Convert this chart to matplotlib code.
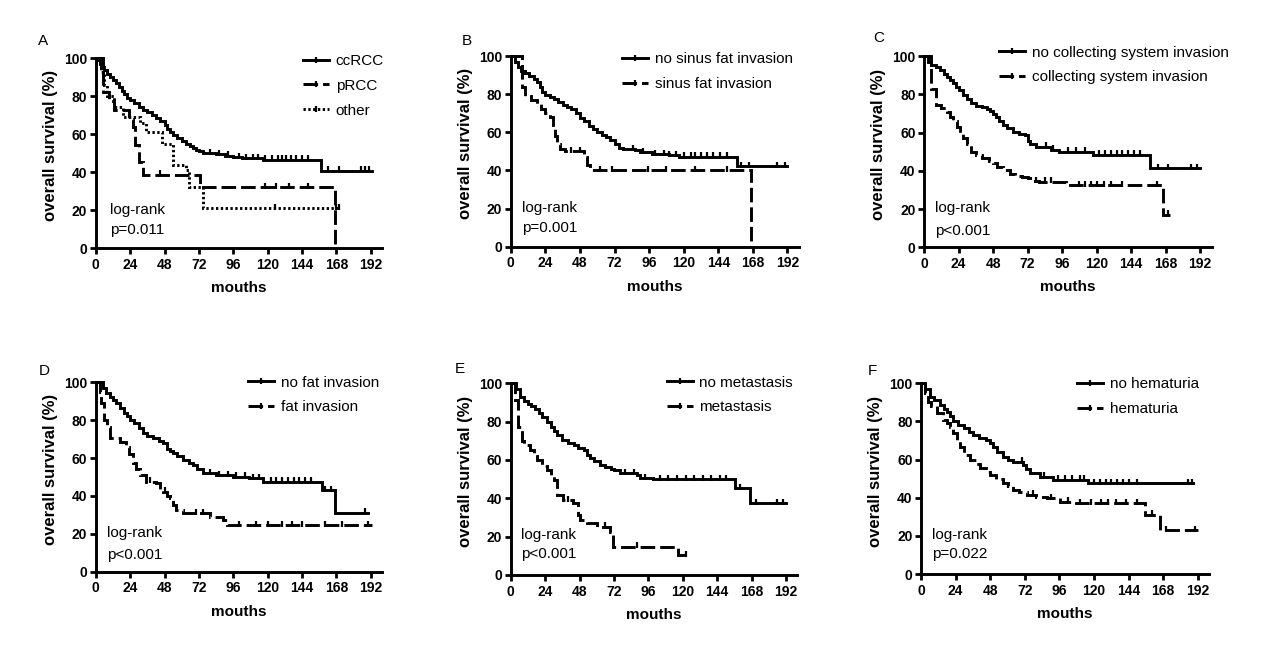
import numpy as np
import matplotlib
matplotlib.use("Agg")
import matplotlib.pyplot as plt
from matplotlib.lines import Line2D

plt.rcParams['font.family'] = ['Liberation Sans', 'DejaVu Sans']

# ---------------- DATA (months, survival %) ----------------
xticks = [0, 24, 48, 72, 96, 120, 144, 168, 192]
yticks = [0, 20, 40, 60, 80, 100]

# Panel A
A_labels = ["ccRCC", "pRCC", "other"]
A_cc_t = [0, 2, 3, 4, 6, 8, 10, 12, 14, 16, 18, 20, 22, 24, 27, 30, 33, 36, 39, 42, 45, 48, 50, 52, 54, 57, 60, 63, 66, 68, 70, 72, 75, 84, 90, 96, 102, 117, 157, 192.5]
A_cc_s = [100, 99, 97, 95.5, 94, 92, 90, 88.5, 87, 85, 83, 81, 79, 78, 76.5, 74.5, 73, 71.5, 70, 68.5, 67, 65, 63, 61, 59.5, 58, 56.5, 55, 54, 53, 52, 51, 50, 49.5, 48.6, 48, 47.5, 46.5, 40.9, 40.9]
A_cc_c = [80, 86, 92, 100, 105, 110, 113, 118, 123, 127, 130, 133, 136, 140, 144, 148, 162, 170, 185, 188, 191]
A_pr_t = [0, 5, 9, 13, 23, 26, 27.5, 30, 33, 73, 167, 167]
A_pr_s = [100, 82.5, 77.5, 72.7, 68, 63.6, 54.5, 45.5, 38.6, 32.2, 0, 0]
A_pr_c = [45, 118, 126, 135, 148]
A_ot_t = [0, 4, 6, 8, 13, 19, 31, 35, 46, 54, 63, 65, 75, 170.6]
A_ot_s = [100, 93, 86, 80, 74.5, 69, 66, 61.4, 55, 43.9, 41, 32.5, 21, 21]
A_ot_c = [125, 168, 170]

# Panel B
B_labels = ["no sinus fat invasion", "sinus fat invasion"]
B_no_t = [0, 3, 5, 7, 10, 13, 16, 18, 20, 22, 24, 27, 30, 33, 36, 39, 42, 45, 48, 51, 54, 57, 60, 63, 66, 69, 72, 75, 78, 86, 90, 98, 110, 117, 157, 192]
B_no_s = [100, 97, 94, 92, 91, 89.5, 88, 86.5, 84, 81, 79.5, 78.5, 77.5, 76, 74.5, 73.5, 72, 70, 67.5, 66, 63.5, 61.5, 60, 58.5, 57.5, 56, 54, 52, 51, 50.5, 49.5, 48.5, 48, 47.2, 42.3, 42.3]
B_no_c = [85, 92, 100, 106, 110, 115, 120, 125, 128, 132, 136, 140, 145, 150, 160, 165, 185, 190]
B_yes_t = [0, 8, 10, 14, 18, 21, 24, 27, 29, 30.5, 32, 34, 38, 51, 53, 55, 167, 167]
B_yes_s = [100, 84, 79, 77, 75, 72, 70, 68, 64, 58, 54, 51, 50, 47.2, 43, 40, 0, 0]
B_yes_c = [42, 48, 62, 70, 95, 108, 128, 150]

# Panel C
C_labels = ["no collecting system invasion", "collecting system invasion"]
C_no_t = [0, 3, 5, 8, 11, 14, 16, 18, 20, 22, 24, 27, 30, 33, 36, 40, 44, 46, 48, 50, 52, 55, 58, 62, 66, 70, 72, 74, 78, 88, 94, 117.8, 157, 192]
C_no_s = [100, 97, 95.5, 94, 92.7, 90.5, 89, 87.5, 86, 84, 82, 79.6, 77.5, 75.5, 74, 73.5, 72.5, 71.5, 69.5, 68, 66, 64, 62.5, 60.5, 59, 58.5, 55.5, 54, 52.6, 51, 50, 48.3, 41.3, 41.3]
C_no_c = [85, 90, 100, 106, 112, 122, 126, 130, 134, 138, 142, 146, 150, 163, 170, 186, 190]
C_yes_t = [0, 5, 8, 12, 16, 18, 20, 23, 25, 27, 30, 33, 36, 40, 45, 48, 51, 55, 60, 63, 68, 72, 76, 80, 99, 100, 166.5, 171]
C_yes_s = [100, 83, 74.4, 72.6, 70.5, 68.3, 66, 63, 60, 57, 54, 50, 48.5, 46.5, 45, 43.9, 42, 40.4, 38.5, 37.5, 36.5, 36, 34.5, 34.3, 33.8, 32.4, 16.9, 16.9]
C_yes_c = [78, 84, 88, 108, 112, 116, 120, 125, 130, 138, 162, 170]

# Panel D
D_labels = ["no fat invasion", "fat invasion"]
D_no_t = [0, 5, 7, 10, 12, 14, 17, 20, 22, 24, 27, 30, 33, 36, 40, 44, 47, 50, 52, 54, 57, 61, 65, 68, 71, 75, 84, 96, 107, 117, 157.6, 167, 190]
D_no_s = [100, 97, 94.2, 92, 90.5, 89, 86.5, 84, 82, 80, 78.5, 76, 73, 71.5, 70.4, 69, 67.8, 65, 63.5, 62.5, 61, 59, 57.5, 56.3, 54, 51.9, 51, 50.2, 49.3, 47.5, 43.1, 31.2, 31.2]
D_no_c = [80, 86, 92, 98, 104, 110, 114, 122, 126, 130, 134, 138, 142, 146, 150, 160, 164, 188]
D_yes_t = [0, 3, 4, 6, 8, 10, 17, 21, 23, 26, 28, 31, 35, 42, 45, 47, 50, 52, 54, 56, 61, 79.7, 89, 91.4, 192.5]
D_yes_s = [100, 95, 89, 80, 76.6, 70.4, 68.7, 66, 62, 57.2, 54, 51, 47.5, 46.7, 43.5, 42.3, 40, 38.7, 35, 32.6, 30.8, 29, 27.3, 24.6, 24.6]
D_yes_c = [38, 48, 70, 75, 100, 112, 120, 130, 137, 144, 160, 172, 190]

# Panel E
E_labels = ["no metastasis", "metastasis"]
E_no_t = [0, 4, 6.5, 9, 12, 14, 17, 20, 22, 25, 28, 30, 32, 36, 40, 44, 47, 51, 53, 55, 58, 62, 66, 70, 72, 76, 88, 90, 99.5, 156.4, 167, 192]
E_no_s = [100, 97, 93, 91, 89, 88, 86.5, 84.3, 82.5, 80, 77, 75, 73, 70.4, 69, 67.8, 66.5, 65, 62.5, 60.9, 59.5, 57.4, 56.5, 55.5, 54.8, 53, 52.2, 50.4, 49.9, 45.2, 37.4, 37.4]
E_no_c = [80, 86, 94, 104, 110, 116, 122, 128, 134, 140, 146, 150, 160, 171, 186, 190]
E_yes_t = [0, 3, 5, 8, 9, 13.5, 16, 18, 22, 25, 28, 30, 32, 36.7, 43.7, 47.2, 48.4, 53, 60, 69.3, 71.6, 117, 124]
E_yes_s = [100, 91.3, 77.4, 70, 67.8, 65.2, 62, 60, 57, 54.8, 52, 49.6, 41.7, 39.1, 37.4, 31.3, 28.7, 27, 25.2, 22.6, 14.8, 10.4, 10.4]
E_yes_c = [40, 66, 88, 122]

# Panel F
F_labels = ["no hematuria", "hematuria"]
F_no_t = [0, 3, 6, 9, 13, 16, 18, 20, 22, 26, 30, 33, 36, 40, 45, 48, 50, 53, 57, 60, 64, 71, 73, 75.6, 82.6, 91.8, 116, 189]
F_no_s = [100, 97, 93, 91, 88.6, 86.5, 85, 83, 80, 78, 76.5, 74.5, 72.9, 71.5, 70.3, 68.5, 66.8, 64, 61.5, 60, 58.9, 57.2, 55, 52.8, 51, 49.3, 47.6, 47.6]
F_no_c = [70, 85, 95, 100, 105, 110, 113, 120, 124, 128, 132, 136, 140, 144, 150, 185, 188]
F_yes_t = [0, 3, 5, 7, 11, 15, 18, 20, 22, 25, 27, 30, 34, 38, 41, 45, 48, 52, 57, 60, 64, 68, 73.3, 80, 87.2, 96.5, 105.7, 155.4, 165.9, 192.4]
F_yes_s = [100, 95, 90, 88, 84.3, 81, 79, 77, 73.8, 70, 66.8, 62.5, 59.8, 57.5, 55.4, 53.5, 51.9, 50, 47.6, 46, 44.1, 43, 41.5, 40.5, 39.7, 38, 37, 31, 23, 23]
F_yes_c = [60, 78, 90, 102, 110, 118, 125, 130, 135, 142, 150, 160, 170, 190]

pvals = {"A": "p=0.011", "B": "p=0.001", "C": "p<0.001", "D": "p<0.001", "E": "p<0.001", "F": "p=0.022"}

# ---------------- STYLE / LAYOUT ----------------
W, H = 1269, 655
LW = 2.1
DASH = (5.0, 1.7)
DOT = (0.8, 0.85)

# left px, top px, bottom px, px per 24 months
layout = {
    "A": (95.7, 58.3, 248.3, 34.4),
    "B": (510.7, 56.0, 246.7, 34.6),
    "C": (924.0, 56.0, 247.3, 34.5),
    "D": (95.7, 382.3, 571.7, 34.4),
    "E": (510.7, 383.3, 575.0, 34.4),
    "F": (921.0, 383.3, 574.0, 34.6),
}
legend_pos = {"A": (0.723, 1.022), "B": (0.385, 1.019), "C": (0.262, 1.054),
              "D": (0.532, 1.035), "E": (0.544, 1.04), "F": (0.542, 1.031)}
letter_pos = {"A": (-0.20, 1.09), "B": (-0.17, 1.079), "C": (-0.177, 1.094),
              "D": (-0.197, 1.061), "E": (-0.194, 1.073), "F": (-0.183, 1.066)}
logrank_pos = {"A": (10, 20.2, 9.6), "B": (7.6, 20.1, 9.6), "C": (7.7, 20.4, 8.7),
               "D": (7.7, 20.2, 8.8), "E": (7.0, 20.9, 11.0), "F": (7.4, 20.5, 10.5)}

panels = {
    "A": [(A_cc_t, A_cc_s, A_cc_c, "solid"), (A_pr_t, A_pr_s, A_pr_c, "dash"), (A_ot_t, A_ot_s, A_ot_c, "dot")],
    "B": [(B_no_t, B_no_s, B_no_c, "solid"), (B_yes_t, B_yes_s, B_yes_c, "dash")],
    "C": [(C_no_t, C_no_s, C_no_c, "solid"), (C_yes_t, C_yes_s, C_yes_c, "dash")],
    "D": [(D_no_t, D_no_s, D_no_c, "solid"), (D_yes_t, D_yes_s, D_yes_c, "dash")],
    "E": [(E_no_t, E_no_s, E_no_c, "solid"), (E_yes_t, E_yes_s, E_yes_c, "dash")],
    "F": [(F_no_t, F_no_s, F_no_c, "solid"), (F_yes_t, F_yes_s, F_yes_c, "dash")],
}
labels = {"A": A_labels, "B": B_labels, "C": C_labels, "D": D_labels, "E": E_labels, "F": F_labels}


def style_kw(kind):
    if kind == "dash":
        return dict(linestyle=(0, DASH))
    if kind == "dot":
        return dict(linestyle=(0, DOT))
    return dict(linestyle="-")


fig = plt.figure(figsize=(W / 100, H / 100), dpi=100)

for key, (lpx, tpx, bpx, p24) in layout.items():
    wpx = p24 * 200 / 24
    hpx = bpx - tpx
    ax = fig.add_axes([lpx / W, 1 - bpx / H, wpx / W, hpx / H])
    ax.set_xlim(0, 200)
    ax.set_ylim(0, 100)
    handles = []
    for (t, s, c, kind) in panels[key]:
        t = np.asarray(t, float)
        s = np.asarray(s, float)
        kw = style_kw(kind)
        ax.step(t, s, where="post", color="black", lw=LW, clip_on=False,
                solid_joinstyle="miter", dash_joinstyle="miter", **kw)
        c = np.asarray(c, float)
        idx = np.searchsorted(t, c, side="right") - 1
        ax.plot(c, s[idx] + 0.8, linestyle="none", marker="|", ms=4.5, mew=1.6,
                color="black", clip_on=False)
        handles.append(Line2D([], [], color="black", lw=LW, marker="|", ms=4.5, mew=1.6, **kw))
    ax.legend(handles, labels[key], loc="upper left", bbox_to_anchor=legend_pos[key],
              frameon=False, fontsize=11, borderpad=0, borderaxespad=0,
              handlelength=1.7, handletextpad=0.45, labelspacing=0.7, numpoints=1)

    for sp in ("top", "right"):
        ax.spines[sp].set_visible(False)
    for sp in ("left", "bottom"):
        ax.spines[sp].set_linewidth(2.1)
    ax.set_xticks(xticks)
    ax.set_yticks(yticks)
    ax.tick_params(axis="both", direction="out", length=4.5, width=2.0, labelsize=10, pad=1.5)
    ax.tick_params(axis="x", pad=2.5)
    for lab in ax.get_xticklabels() + ax.get_yticklabels():
        lab.set_fontweight("bold")

    ax.set_xlabel("mouths", fontsize=11, fontweight="bold")
    ax.xaxis.set_label_coords(0.5, -33 / hpx)
    ax.set_ylabel("overall survival (%)", fontsize=12, fontweight="bold")
    ax.yaxis.set_label_coords(-38 / wpx, 0.54)

    lx, ly1, ly2 = logrank_pos[key]
    ax.text(lx, ly1, "log-rank", fontsize=11, va="center", ha="left")
    ax.text(lx, ly2, pvals[key], fontsize=11, va="center", ha="left")

    px, py = letter_pos[key]
    ax.text(px, py, key, transform=ax.transAxes, fontsize=11, va="center", ha="left")

fig.savefig("out.png", dpi=100)
